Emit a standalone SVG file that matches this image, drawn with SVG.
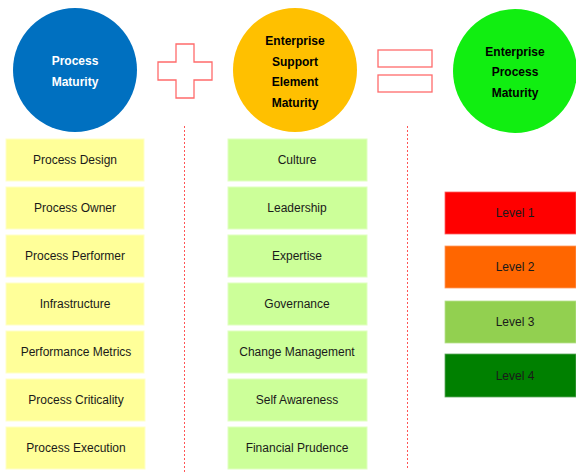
<svg xmlns="http://www.w3.org/2000/svg" width="576" height="473" viewBox="0 0 576 473">
<style>
text{font-family:"Liberation Sans",Arial,sans-serif;font-size:12px;text-anchor:middle;fill:#1a1a1a}
.b{font-weight:bold}
.w{fill:#ffffff}
.k{fill:#000}
.y{fill:#FFFF99;stroke:#FFFFC8;stroke-width:1}
.g{fill:#CCFF99;stroke:#E0FFC0;stroke-width:1}
.op{fill:#ffffff;stroke:#FF6B6B;stroke-width:1.3}
.sep{stroke:#FF5555;stroke-width:1;stroke-dasharray:2 2;fill:none}
</style>
<rect width="576" height="473" fill="#ffffff"/>
<g id="connectors">
<line class="sep" x1="184.5" y1="126" x2="184.5" y2="473"/>
<line class="sep" x1="407.5" y1="126" x2="407.5" y2="470"/>
</g>
<g id="process-maturity">
<circle cx="75" cy="70" r="62" fill="#0070C0"/>
<text class="b w" x="75" y="65">Process</text>
<text class="b w" x="75" y="86">Maturity</text>
</g>
<g id="plus">
<path class="op" d="M176 44H194V62H212V80H194V98H176V80H158V62H176Z"/>
</g>
<g id="support-maturity">
<circle cx="295" cy="70" r="62" fill="#FFC000"/>
<text class="b k" x="295" y="45">Enterprise</text>
<text class="b k" x="295" y="66">Support</text>
<text class="b k" x="295" y="86">Element</text>
<text class="b k" x="295" y="107">Maturity</text>
</g>
<g id="equals">
<rect class="op" x="378" y="50" width="54" height="17"/>
<rect class="op" x="378" y="75" width="54" height="17"/>
</g>
<g id="enterprise-maturity">
<circle cx="515" cy="71" r="62" fill="#11EE11"/>
<text class="b k" x="515" y="56">Enterprise</text>
<text class="b k" x="515" y="76">Process</text>
<text class="b k" x="515" y="97">Maturity</text>
</g>
<g id="process-design"><rect class="y" x="6" y="139" width="138" height="42"/><text x="75" y="164">Process Design</text></g>
<g id="process-owner"><rect class="y" x="6" y="187" width="138" height="42"/><text x="75" y="212">Process Owner</text></g>
<g id="process-performer"><rect class="y" x="6" y="235" width="138" height="42"/><text x="75" y="260">Process Performer</text></g>
<g id="infrastructure"><rect class="y" x="6" y="283" width="138" height="42"/><text x="75" y="308">Infrastructure</text></g>
<g id="performance-metrics"><rect class="y" x="6" y="331" width="138" height="42"/><text x="76" y="356">Performance Metrics</text></g>
<g id="process-criticality"><rect class="y" x="6" y="379" width="139" height="42"/><text x="76" y="404">Process Criticality</text></g>
<g id="process-execution"><rect class="y" x="6" y="427" width="139" height="42"/><text x="76" y="452">Process Execution</text></g>
<g id="culture"><rect class="g" x="228" y="139" width="139" height="42"/><text x="297" y="164">Culture</text></g>
<g id="leadership"><rect class="g" x="228" y="187" width="139" height="42"/><text x="297" y="212">Leadership</text></g>
<g id="expertise"><rect class="g" x="228" y="235" width="139" height="42"/><text x="297" y="260">Expertise</text></g>
<g id="governance"><rect class="g" x="228" y="283" width="139" height="42"/><text x="297" y="308">Governance</text></g>
<g id="change-management"><rect class="g" x="228" y="331" width="139" height="42"/><text x="297" y="356">Change Management</text></g>
<g id="self-awareness"><rect class="g" x="228" y="379" width="139" height="42"/><text x="297" y="404">Self Awareness</text></g>
<g id="financial-prudence"><rect class="g" x="228" y="427" width="139" height="42"/><text x="297" y="452">Financial Prudence</text></g>
<g id="level-1"><rect x="445" y="192" width="131" height="42" fill="#FF0000" stroke="#FF6060" stroke-width="0.8"/><text x="515" y="217">Level 1</text></g>
<g id="level-2"><rect x="445" y="246" width="131" height="42" fill="#FF6600" stroke="#FF9a60" stroke-width="0.8"/><text x="515" y="271">Level 2</text></g>
<g id="level-3"><rect x="445" y="301" width="131" height="42" fill="#92D050" stroke="#B8E290" stroke-width="0.8"/><text x="515" y="326">Level 3</text></g>
<g id="level-4"><rect x="445" y="354" width="131" height="43" fill="#008000" stroke="#60A860" stroke-width="0.8"/><text x="515" y="380">Level 4</text></g>
</svg>
